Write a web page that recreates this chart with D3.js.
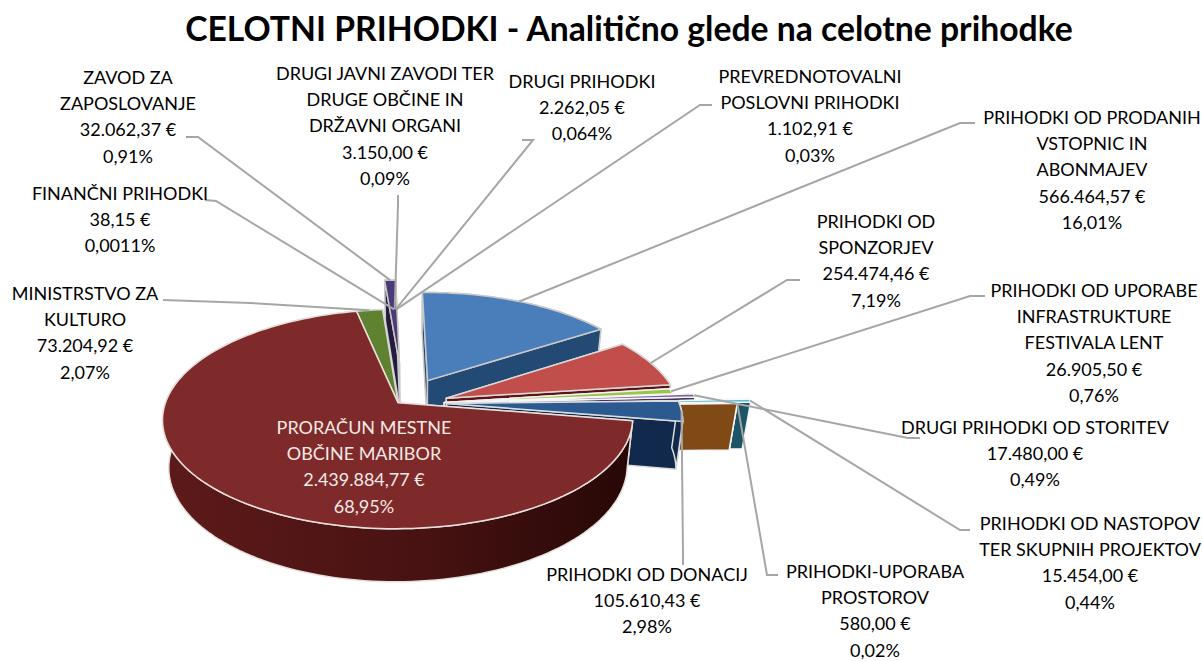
<!DOCTYPE html>
<html>
<head>
<meta charset="utf-8">
<script src="https://cdn.jsdelivr.net/npm/d3@7"></script>
<style>
  html, body { margin: 0; background: #fff; }
  text { font-family: Lato, "Open Sans", sans-serif; }
</style>
</head>
<body>
<svg id="chart"></svg>
<script>
// data, clockwise from the blue slice
var categories = [
  ["PRIHODKI OD PRODANIH", "VSTOPNIC IN", "ABONMAJEV"],
  ["PRIHODKI OD", "SPONZORJEV"],
  ["PRIHODKI OD UPORABE", "INFRASTRUKTURE", "FESTIVALA LENT"],
  ["DRUGI PRIHODKI OD STORITEV"],
  ["PRIHODKI OD NASTOPOV", "TER SKUPNIH PROJEKTOV"],
  ["PRIHODKI-UPORABA", "PROSTOROV"],
  ["PRIHODKI OD DONACIJ"],
  ["PRORAČUN MESTNE", "OBČINE MARIBOR"],
  ["MINISTRSTVO ZA", "KULTURO"],
  ["ZAVOD ZA", "ZAPOSLOVANJE"],
  ["FINANČNI PRIHODKI"],
  ["DRUGI JAVNI ZAVODI TER", "DRUGE OBČINE IN", "DRŽAVNI ORGANI"],
  ["DRUGI PRIHODKI"],
  ["PREVREDNOTOVALNI", "POSLOVNI PRIHODKI"]
];
var amounts = [566464.57, 254474.46, 26905.50, 17480.00, 15454.00, 580.00, 105610.43,
               2439884.77, 73204.92, 32062.37, 38.15, 3150.00, 2262.05, 1102.91];
var percents = ["16,01%", "7,19%", "0,76%", "0,49%", "0,44%", "0,02%", "2,98%",
                "68,95%", "2,07%", "0,91%", "0,0011%", "0,09%", "0,064%", "0,03%"];

// layout, same order as the data
var topColors  = ["#4a7ebb", "#c24e4b", "#98c648", "#8064a2", "#55bcd6", "#e98a2f", "#2b5a90",
                  "#7f2a2a", "#5f8231", "#4c3a78", "#2c7f96", "#b8682a", "#3a6ea5", "#a33"];
var sideColors = ["#234a74", "#5e1414", "#566f28", "#46345f", "#1d5566", "#7f4a16", "#10294c",
                  "url(#mainWall)", "#3a5220", "#241a3e", "#174a58", "#6a3c12", "#1d3c60", "#5e1414"];
var edgeColors = ["#c9c9c9", "#d8d8d8", "#f2f2f2", "#f6f6f6", "#f6f6f6", "#f6f6f6", "#dcdcdc",
                  "#e6e0dc", "#d8d8d8", "#c9c9c9", "#c9c9c9", "#c9c9c9", "#c9c9c9", "#c9c9c9"];
var explodeX = [.06, .14, .13, .22, .45, .39, .14, -.069, -.069, -.066, -.069, -.069, -.069, -.069];
var explodeV = [-.14, .03, .07, .07, .09, .10, .08, .0725, .0725, -.305, .0725, .0725, .0725, .0725];
var labelX = [1092, 876, 1094, 1035, 1090, 875, 647, 364, 85, 128, 120, 385, 582, 810];
var labelY = [118, 222, 291, 428, 524, 572, 575, 428, 294, 78, 194, 74, 82, 77];
var leaderOuter = [
  [[975,123],[960,123]], [[800,280],[787,280]], [[985,296],[970,296]], [[920,438],[908,438]],
  [[970,530],[960,530]], [[778,575],[767,575]], [[683,565],[683,555]], null,
  [[163,300],[250,303]], [[186,137],[198,137]], [[205,200],[216,201]], [[398,195],[398,205]],
  [[522,140],[533,140]], [[712,105],[700,105]]
];

var width = 1202, height = 661;
var persp = .147;            // foreshortening of the pie plane
var depthX = .975, depthY = 1.05, depthShift = 26.6;  // how the lower face sits under the upper one

var xScale = d3.scaleLinear().domain([-1, 1]).range([414 - 230, 414 + 230]);
var yScale = d3.scaleLinear().domain([-1, 1]).range([395 - 105, 395 + 105]);

var money = d3.formatLocale({decimal: ",", thousands: ".", grouping: [3], currency: ["", " €"]}).format("$,.2f");

var svg = d3.select("#chart").attr("width", width).attr("height", height)
  .style("display", "block");

var grad = svg.append("defs").append("linearGradient").attr("id", "mainWall");
grad.append("stop").attr("offset", "0%").attr("stop-color", "#5e1a1a");
grad.append("stop").attr("offset", "55%").attr("stop-color", "#481212");
grad.append("stop").attr("offset", "100%").attr("stop-color", "#260806");

svg.append("text").attr("x", 629).attr("y", 41).attr("text-anchor", "middle")
  .style("font-size", "33.7px").style("font-weight", "700").style("fill", "#000")
  .text("CELOTNI PRIHODKI - Analitično glede na celotne prihodke");

var pie = d3.pie().sort(null).value(d => d)
  .startAngle(-1 * Math.PI / 180).endAngle(359 * Math.PI / 180);
var arcs = pie(amounts);

// point on a slice: a = angle clockwise from the back, r = part of the radius
function project(i, a, r, low) {
  var x = explodeX[i] + r * Math.sin(a);
  var v = explodeV[i] - r * Math.cos(a);
  var k = 1 - persp * v;
  var px = xScale(x / k), py = yScale(v / k);
  if (low) {
    px = xScale(0) + (px - xScale(0)) * depthX;
    py = py * depthY + depthShift;
  }
  return [px, py];
}

function rimAngles(d) {
  var n = Math.max(2, Math.ceil((d.endAngle - d.startAngle) / .03));
  return d3.range(n + 1).map(k => d.startAngle + (d.endAngle - d.startAngle) * k / n);
}

var path = d3.line();
var order = d3.range(arcs.length).sort((a, b) =>
  d3.ascending(-Math.cos((arcs[a].startAngle + arcs[a].endAngle) / 2),
               -Math.cos((arcs[b].startAngle + arcs[b].endAngle) / 2)));

var slices = svg.append("g").selectAll("g").data(order).join("g");

slices.each(function(i) {
  var g = d3.select(this), d = arcs[i], rim = rimAngles(d);
  var cutFace = a => [project(i, 0, 0, false), project(i, a, 1, false), project(i, a, 1, true), project(i, 0, 0, true)];
  var rimFace = rim.map(a => project(i, a, 1, false)).concat(rim.slice().reverse().map(a => project(i, a, 1, true)));
  var topFace = [project(i, 0, 0, false)].concat(rim.map(a => project(i, a, 1, false)));
  var mid = (d.startAngle + d.endAngle) / 2;

  // a slice at the back shows its cut sides in front of its rim
  var faces = Math.cos(mid) > 0
    ? [rimFace, cutFace(d.startAngle), cutFace(d.endAngle)]
    : [cutFace(d.startAngle), cutFace(d.endAngle), rimFace];

  faces.forEach(f => {
    g.append("path").attr("d", path(f) + "Z")
      .attr("fill", sideColors[i]).attr("stroke", edgeColors[i]).attr("stroke-width", 1.5)
      .attr("stroke-linejoin", "round");
  });
  g.append("path").attr("d", path(topFace) + "Z")
    .attr("fill", topColors[i]).attr("stroke", edgeColors[i]).attr("stroke-width", 1.5)
    .attr("stroke-linejoin", "round");
});

// leaders end on the rim in the middle of their slice
svg.append("g").selectAll("path").data(d3.range(arcs.length).filter(i => leaderOuter[i])).join("path")
  .attr("d", i => {
    var mid = (arcs[i].startAngle + arcs[i].endAngle) / 2;
    return path(leaderOuter[i].concat([project(i, mid, 1, false)]));
  })
  .attr("fill", "none").attr("stroke", "#a6a6a6").attr("stroke-width", 2);

var labels = svg.append("g").selectAll("text").data(d3.range(arcs.length)).join("text")
  .attr("text-anchor", "middle")
  .style("font-size", "18px")
  .style("fill", i => i === 7 ? "#f4e9e6" : "#000");

labels.each(function(i) {
  var lines = categories[i].concat([money(amounts[i]), percents[i]]);
  d3.select(this).selectAll("tspan").data(lines).join("tspan")
    .attr("x", labelX[i])
    .attr("y", (l, k) => labelY[i] + 6 + k * 26.2)
    .text(l => l);
});
</script>
</body>
</html>
